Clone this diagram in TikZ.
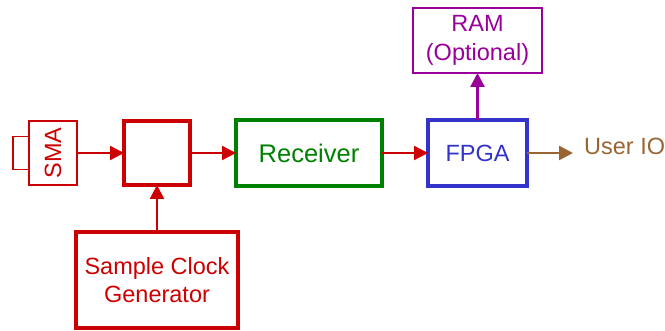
\documentclass[tikz,border=0pt]{standalone}
\usepackage{fontspec}
\setmainfont{Liberation Sans}
\usepackage{tikz}
\usetikzlibrary{arrows.meta,positioning}
\definecolor{clkred}{RGB}{204,0,0}
\definecolor{rxgreen}{RGB}{0,128,0}
\definecolor{fpgablue}{RGB}{51,51,204}
\definecolor{rampurple}{RGB}{153,0,153}
\definecolor{iobrown}{RGB}{153,102,51}

\begin{document}
\begin{tikzpicture}[
  node distance=47pt,
  blk/.style={draw, line width=3.6pt, inner sep=0pt, outer sep=0pt, align=center, font=\fontsize{23.5}{28.5}\selectfont},
  thinblk/.style={blk, line width=2pt},
  arr/.style={-{Triangle[length=14pt,width=14pt]}, line width=2.4pt}
]
\useasboundingbox (0,0) rectangle (665pt,330pt);
\node[blk, draw=clkred, minimum width=66pt, minimum height=64pt] (mix) at (157pt,177pt) {};
\node[thinblk, draw=clkred, text=clkred, minimum width=48pt, minimum height=64pt, left=47pt of mix] (sma) {\rotatebox{90}{SMA}};
\node[thinblk, draw=clkred, line width=1.6pt, minimum width=16pt, minimum height=33pt, left=0pt of sma] (conn) {};
\node[blk, draw=clkred, text=clkred, minimum width=162pt, minimum height=96pt, below=47pt of mix] (clk) {Sample Clock\\Generator};
\node[blk, draw=rxgreen, text=rxgreen, minimum width=146pt, minimum height=66pt, right=46pt of mix, font=\fontsize{25.5}{30}\selectfont] (rx) {Receiver};
\node[blk, draw=fpgablue, text=fpgablue, line width=4pt, minimum width=99pt, minimum height=66pt, right=46pt of rx] (fpga) {FPGA};
\node[thinblk, draw=rampurple, text=rampurple, line width=2.4pt, minimum width=129pt, minimum height=65pt, above=47pt of fpga] (ram) {RAM\\(Optional)};
\coordinate[right=46pt of fpga] (io);
\node[right=11pt of io, yshift=7pt, inner sep=0pt, text=iobrown, font=\fontsize{23.5}{27}\selectfont] (userio) {User IO};

\draw[arr, clkred] (sma) -- (mix);
\draw[arr, clkred] (clk) -- (mix);
\draw[arr, clkred] (mix) -- (rx);
\draw[arr, clkred] (rx) -- (fpga);
\draw[arr, rampurple] (fpga) -- (ram);
\draw[arr, iobrown] (fpga) -- (io);
\end{tikzpicture}
\end{document}
